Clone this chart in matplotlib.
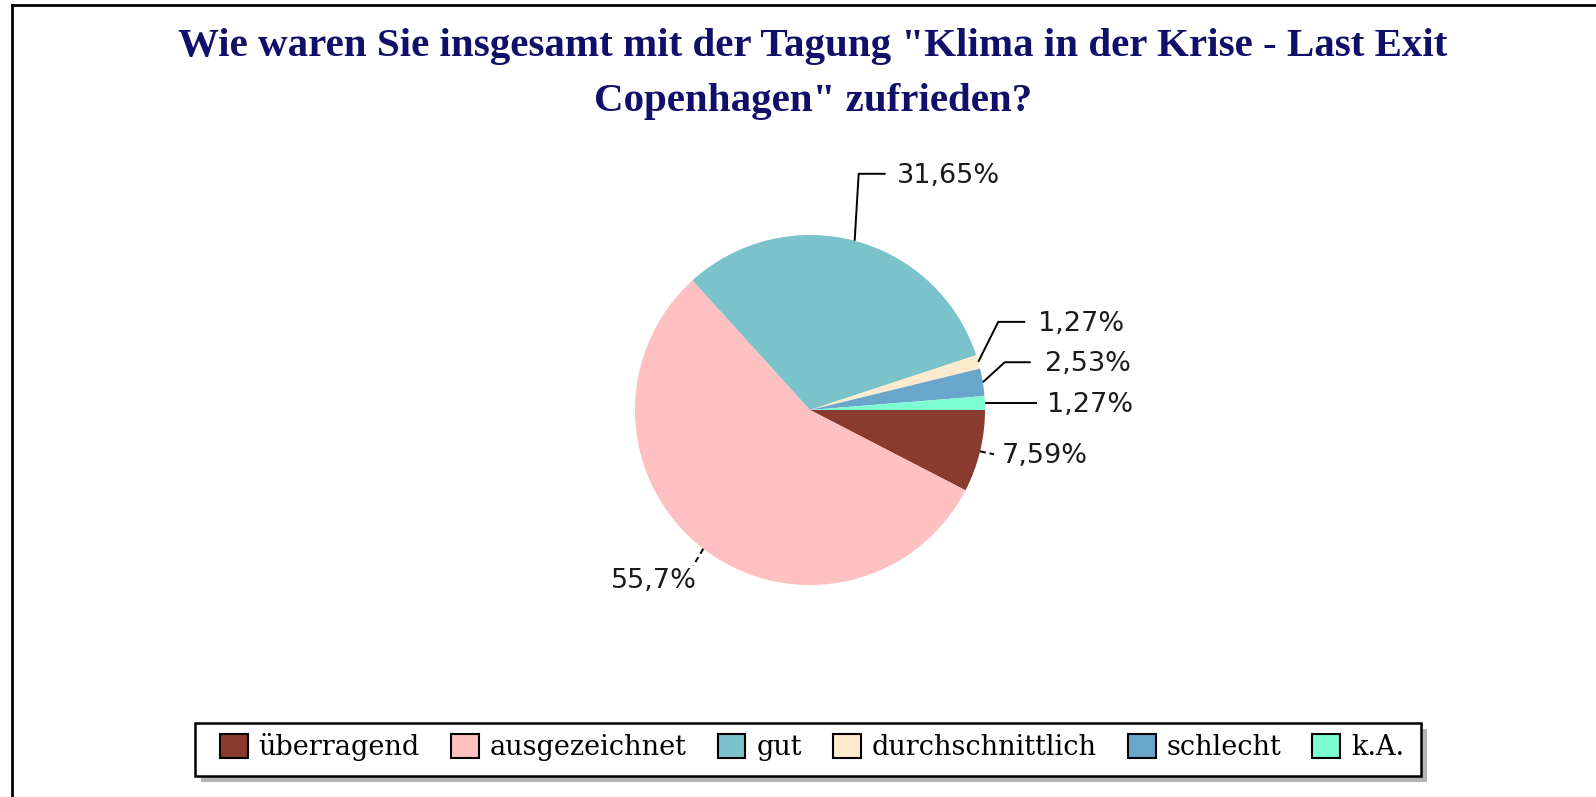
import numpy as np
import matplotlib
matplotlib.use('Agg')
from matplotlib import pyplot as plt
from matplotlib.lines import Line2D
from matplotlib.patches import Rectangle

# data
categories = ['überragend', 'ausgezeichnet', 'gut', 'durchschnittlich', 'schlecht', 'k.A.']
shares = [7.59, 55.7, 31.65, 1.27, 2.53, 1.27]
value_labels = ['7,59%', '55,7%', '31,65%', '1,27%', '2,53%', '1,27%']
colors = ['#8b3a2e', '#fec0c0', '#7bc3ca', '#feebcd', '#6aa6cb', '#7dfed2']

title = 'Wie waren Sie insgesamt mit der Tagung "Klima in der Krise - Last Exit\nCopenhagen" zufrieden?'

W, H = 1596, 797
fig = plt.figure(figsize=(W / 100, H / 100), dpi=100)
fig.patch.set_facecolor('white')

# pie axes: centre (810, 410) px from top-left, radius 175 px
cx, cy, r = 810, 410, 175
ax = fig.add_axes([(cx - r) / W, (H - cy - r) / H, 2 * r / W, 2 * r / H])
wedges, _ = ax.pie(shares, colors=colors, startangle=0, counterclock=False,
                   radius=1, wedgeprops=dict(linewidth=0))
ax.set_xlim(-1, 1)
ax.set_ylim(-1, 1)
ax.set_aspect('equal')
ax.axis('off')

# leader lines: (elbow dx, elbow dy, horizontal length, text gap) in px
leaders = [
    (14, -3, 0, 8),      # überragend
    (-10, -17, 0, -4),   # ausgezeichnet
    (4, 67, 27, 11),     # gut
    (20, 40, 27, 13),    # durchschnittlich
    (22, 20, 26, 14),    # schlecht
    (52, 0, 0, 10),      # k.A.
]
s = 1.0 / r
for w, lab, (ex, ey, hl, gap) in zip(wedges, value_labels, leaders):
    ang = np.deg2rad((w.theta1 + w.theta2) / 2)
    ax0, ay0 = np.cos(ang), np.sin(ang)
    x1, y1 = ax0 + ex * s, ay0 + ey * s
    x2 = x1 + hl * s
    ls = '-' if hl > 0 or ex > 30 else (0, (3, 2))
    ax.plot([ax0, x1, x2], [ay0, y1, y1], color='black', lw=1.4, ls=ls,
            clip_on=False, solid_capstyle='butt')
    if gap >= 0:
        ax.text(x2 + gap * s, y1 - 2 * s, lab, ha='left', va='center',
                fontsize=19.5, family='DejaVu Sans', color='#1a1a1a')
    else:
        ax.text(x2 - gap * s, y1 - 15 * s, lab, ha='right', va='center',
                fontsize=19.5, family='DejaVu Sans', color='#1a1a1a')

fig.text(813 / W, 1 - 74 / H, title, ha='center', va='center',
         fontsize=29.5, family='Liberation Serif', fontweight='bold',
         color='#10106a', linespacing=1.62)

# legend box with shadow
bx0, bx1, by0, by1 = 195, 1421, 723, 776
fig.add_artist(Rectangle(((bx0 + 6) / W, 1 - (by1 + 6) / H), (bx1 - bx0) / W, (by1 - by0) / H,
                         transform=fig.transFigure, facecolor='#b4b4b4', edgecolor='none'))
fig.add_artist(Rectangle((bx0 / W, 1 - by1 / H), (bx1 - bx0) / W, (by1 - by0) / H,
                         transform=fig.transFigure, facecolor='white', edgecolor='black', lw=1.8))

leg = fig.legend(wedges, categories, loc='center', bbox_to_anchor=(812 / W, 1 - 747 / H),
                 ncol=6, frameon=False,
                 handlelength=1.03, handleheight=1.0, handletextpad=0.4,
                 columnspacing=1.15, borderpad=0.0,
                 prop={'family': 'DejaVu Serif', 'size': 19.5})
for h in leg.legend_handles:
    h.set_edgecolor('black')
    h.set_linewidth(1.5)

# chart border (top and left)
fig.add_artist(Line2D([12 / W, 12 / W], [0, 1 - 5 / H], color='black', lw=2))
fig.add_artist(Line2D([12 / W, 1], [1 - 5 / H, 1 - 5 / H], color='black', lw=2))

fig.savefig('out.png', dpi=100, facecolor='white')
